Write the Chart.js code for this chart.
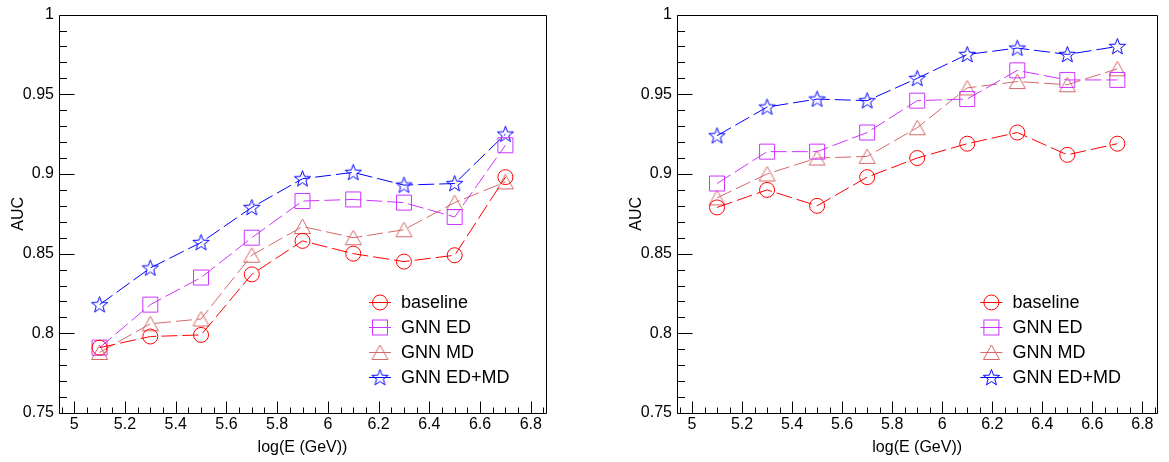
<!DOCTYPE html>
<html><head><meta charset="utf-8">
<script src="https://cdn.jsdelivr.net/npm/chart.js@4"></script>
<style>
html,body{margin:0;padding:0;background:#fff;}
#wrap{position:relative;width:1169px;height:462px;background:#fff;}
#c1{position:absolute;left:0;top:0;}
#c2{position:absolute;left:585px;top:0;}
</style></head><body>
<div id="wrap"><canvas id="c1" width="585" height="462"></canvas><canvas id="c2" width="584" height="462"></canvas></div>
<script>
// ---- data ----
const energies = [5.1, 5.3, 5.5, 5.7, 5.9, 6.1, 6.3, 6.5, 6.7];
const seriesNames = ['baseline', 'GNN ED', 'GNN MD', 'GNN ED+MD'];

const leftBaseline = [0.791, 0.798, 0.799, 0.837, 0.858, 0.850, 0.845, 0.849, 0.898];
const leftGnnED    = [0.791, 0.818, 0.835, 0.860, 0.883, 0.884, 0.882, 0.873, 0.918];
const leftGnnMD    = [0.788, 0.806, 0.809, 0.849, 0.867, 0.860, 0.865, 0.882, 0.895];
const leftGnnEDMD  = [0.818, 0.841, 0.857, 0.879, 0.897, 0.901, 0.893, 0.894, 0.925];

const rightBaseline = [0.879, 0.890, 0.880, 0.898, 0.910, 0.919, 0.926, 0.912, 0.919];
const rightGnnED    = [0.894, 0.914, 0.914, 0.926, 0.946, 0.947, 0.965, 0.959, 0.959];
const rightGnnMD    = [0.885, 0.900, 0.910, 0.911, 0.929, 0.954, 0.958, 0.956, 0.966];
const rightGnnEDMD  = [0.924, 0.942, 0.947, 0.946, 0.960, 0.975, 0.979, 0.975, 0.980];

const xTickValues = [5, 5.2, 5.4, 5.6, 5.8, 6, 6.2, 6.4, 6.6, 6.8];
const xTickLabels = ['5', '5.2', '5.4', '5.6', '5.8', '6', '6.2', '6.4', '6.6', '6.8'];
const yTickValues = [0.75, 0.8, 0.85, 0.9, 0.95, 1];
const yTickLabels = ['0.75', '0.8', '0.85', '0.9', '0.95', '1'];
const xRange = [4.94, 6.86];
const yRange = [0.75, 1.0];
const xMinorStep = 0.05, yMinorStep = 0.01;

// ---- styles ----
const COLORS = ['#ff0000', '#cc33ff', '#d46a6a', '#0000ff'];
const FONT = "'Liberation Sans', Arial, Helvetica, sans-serif";

function makeTriangle(color) {
  const c = document.createElement('canvas'); c.width = 19; c.height = 17;
  const g = c.getContext('2d'); g.strokeStyle = color; g.lineWidth = 1;
  g.beginPath(); g.moveTo(9.5, 1); g.lineTo(17.5, 15.5); g.lineTo(1.5, 15.5); g.closePath(); g.stroke();
  return c;
}
function makeStar(color) {
  const c = document.createElement('canvas'); c.width = 19; c.height = 19;
  const g = c.getContext('2d'); g.strokeStyle = color; g.lineWidth = 1;
  const cx = 9.5, cy = 10, R = 8.5, r = 3.5;
  g.beginPath();
  for (let i = 0; i < 10; i++) {
    const ang = -Math.PI / 2 + i * Math.PI / 5;
    const rr = i % 2 === 0 ? R : r;
    const px = cx + rr * Math.cos(ang), py = cy + rr * Math.sin(ang);
    if (i === 0) g.moveTo(px, py); else g.lineTo(px, py);
  }
  g.closePath(); g.stroke();
  return c;
}
const STYLES = [
  {pointStyle: 'circle', radius: 7.5},
  {pointStyle: 'rect', radius: 10.6},
  {pointStyle: makeTriangle(COLORS[2]), radius: 8},
  {pointStyle: makeStar(COLORS[3]), radius: 8}
];

const frameTicks = {
  id: 'frameTicks',
  afterDraw(chart) {
    const {ctx, chartArea: a, scales: {x, y}} = chart;
    ctx.save();
    ctx.strokeStyle = '#000'; ctx.lineWidth = 1; ctx.setLineDash([]);
    const L = Math.round(a.left) + 0.5, R = Math.round(a.right) + 0.5;
    const T = Math.round(a.top) + 0.5, B = Math.round(a.bottom) + 0.5;
    ctx.beginPath();
    ctx.rect(L, T, R - L, B - T);
    const k0 = Math.ceil(x.min / xMinorStep - 1e-6), k1 = Math.floor(x.max / xMinorStep + 1e-6);
    for (let k = k0; k <= k1; k++) {
      const v = k * xMinorStep;
      const major = Math.abs(v / 0.2 - Math.round(v / 0.2)) < 1e-6;
      const px = Math.round(x.getPixelForValue(v)) + 0.5;
      ctx.moveTo(px, B); ctx.lineTo(px, B - (major ? 12 : 6));
    }
    const j0 = Math.ceil(y.min / yMinorStep - 1e-6), j1 = Math.floor(y.max / yMinorStep + 1e-6);
    for (let j = j0; j <= j1; j++) {
      const v = j * yMinorStep;
      const major = Math.abs(v / 0.05 - Math.round(v / 0.05)) < 1e-6;
      const py = Math.round(y.getPixelForValue(v)) + 0.5;
      ctx.moveTo(L, py); ctx.lineTo(L + (major ? 15 : 7.5), py);
    }
    ctx.stroke();

    // legend
    const textX = a.right - 145, markX = textX - 21;
    ctx.font = '18px ' + FONT; ctx.textBaseline = 'middle'; ctx.textAlign = 'left';
    chart.data.datasets.forEach((ds, i) => {
      const yy = Math.round(a.bottom - 111 + i * 25) + 0.5;
      ctx.strokeStyle = ds.borderColor; ctx.lineWidth = 1; ctx.setLineDash([]);
      ctx.beginPath(); ctx.moveTo(markX - 11, yy); ctx.lineTo(markX + 11, yy); ctx.stroke();
      const st = STYLES[i];
      if (st.pointStyle === 'circle') {
        ctx.beginPath(); ctx.arc(markX, yy, st.radius, 0, Math.PI * 2); ctx.stroke();
      } else if (st.pointStyle === 'rect') {
        const s = st.radius * Math.SQRT1_2;
        ctx.strokeRect(markX - s, yy - s, 2 * s, 2 * s);
      } else {
        const im = st.pointStyle;
        ctx.drawImage(im, markX - im.width / 2, yy - im.height / 2);
      }
      ctx.fillStyle = '#000';
      ctx.fillText(ds.label, textX, yy + 1);
    });
    ctx.restore();
  }
};

function makeDatasets(seriesList) {
  return seriesList.map((vals, i) => ({
    label: seriesNames[i],
    data: energies.map((e, k) => ({x: e, y: vals[k]})),
    borderColor: COLORS[i],
    backgroundColor: 'rgba(0,0,0,0)',
    pointBackgroundColor: 'rgba(0,0,0,0)',
    pointBorderColor: COLORS[i],
    pointBorderWidth: 1,
    pointStyle: STYLES[i].pointStyle,
    pointRadius: STYLES[i].radius,
    pointHoverRadius: STYLES[i].radius,
    borderWidth: 1,
    borderDash: [16, 5],
    tension: 0,
    fill: false
  }));
}

function makeChart(id, seriesList, yWidth, padRight) {
  return new Chart(document.getElementById(id), {
    type: 'line',
    data: {datasets: makeDatasets(seriesList)},
    options: {
      responsive: false, animation: false,
      events: [],
      layout: {padding: {left: 0, right: padRight, top: 13, bottom: 0}},
      plugins: {legend: {display: false}, tooltip: {enabled: false}},
      scales: {
        x: {
          type: 'linear', min: xRange[0], max: xRange[1],
          afterBuildTicks: s => { s.ticks = xTickValues.map(v => ({value: v})); },
          afterFit: s => { s.height = 49; },
          grid: {display: false, drawTicks: false},
          border: {display: false},
          ticks: {
            autoSkip: false, maxRotation: 0, padding: 2, color: '#000',
            font: {family: FONT, size: 16},
            callback: v => { const i = xTickValues.findIndex(t => Math.abs(t - v) < 1e-9); return i >= 0 ? xTickLabels[i] : ''; }
          },
          title: {display: true, text: 'log(E (GeV))', color: '#000', font: {family: FONT, size: 16}, padding: {top: 0, bottom: 5}}
        },
        y: {
          type: 'linear', min: yRange[0], max: yRange[1],
          afterBuildTicks: s => { s.ticks = yTickValues.map(v => ({value: v})); },
          afterFit: s => { s.width = yWidth; },
          grid: {display: false, drawTicks: false},
          border: {display: false},
          ticks: {
            autoSkip: false, padding: 5, color: '#000',
            font: {family: FONT, size: 16},
            callback: v => { const i = yTickValues.findIndex(t => Math.abs(t - v) < 1e-9); return i >= 0 ? yTickLabels[i] : ''; }
          },
          title: {display: true, text: 'AUC', color: '#000', font: {family: FONT, size: 16}, padding: {top: yWidth - 50, bottom: 0}}
        }
      }
    },
    plugins: [frameTicks]
  });
}

makeChart('c1', [leftBaseline, leftGnnED, leftGnnMD, leftGnnEDMD], 59, 39);
makeChart('c2', [rightBaseline, rightGnnED, rightGnnMD, rightGnnEDMD], 92, 7);
</script>
</body></html>
